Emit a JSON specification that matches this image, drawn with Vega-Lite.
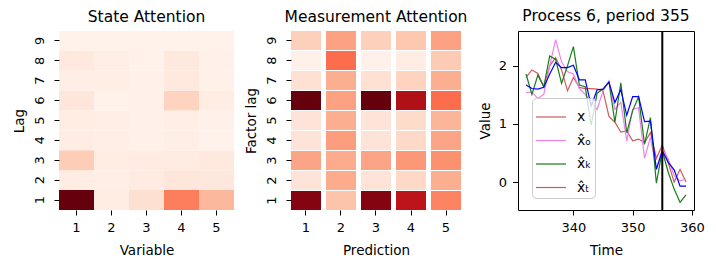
{
  "$schema": "https://vega.github.io/schema/vega-lite/v6.json",
  "padding": {"left": 12, "top": 8, "right": 5, "bottom": 5},
  "config": {
    "font": "DejaVu Sans",
    "view": {"stroke": null},
    "axis": {"labelFontSize": 13, "titleFontSize": 13.5, "titleFontWeight": "normal", "labelColor": "black", "titleColor": "black", "tickColor": "black", "domainColor": "black", "tickSize": 5, "grid": false, "labelFont": "DejaVu Sans", "titleFont": "DejaVu Sans"},
    "axisX": {"labelPadding": 6, "titlePadding": 9},
    "axisY": {"labelPadding": 8, "titlePadding": 7},
    "title": {"fontSize": 15.5, "fontWeight": "normal", "font": "DejaVu Sans", "offset": 6, "color": "black"}
  },
  "datasets": {
    "state": [
      {"lag": 1, "var": 1, "v": 1.0}, {"lag": 1, "var": 2, "v": 0.05}, {"lag": 1, "var": 3, "v": 0.125}, {"lag": 1, "var": 4, "v": 0.44}, {"lag": 1, "var": 5, "v": 0.26},
      {"lag": 2, "var": 1, "v": 0.05}, {"lag": 2, "var": 2, "v": 0.04}, {"lag": 2, "var": 3, "v": 0.06}, {"lag": 2, "var": 4, "v": 0.09}, {"lag": 2, "var": 5, "v": 0.08},
      {"lag": 3, "var": 1, "v": 0.19}, {"lag": 3, "var": 2, "v": 0.05}, {"lag": 3, "var": 3, "v": 0.06}, {"lag": 3, "var": 4, "v": 0.06}, {"lag": 3, "var": 5, "v": 0.07},
      {"lag": 4, "var": 1, "v": 0.05}, {"lag": 4, "var": 2, "v": 0.04}, {"lag": 4, "var": 3, "v": 0.03}, {"lag": 4, "var": 4, "v": 0.04}, {"lag": 4, "var": 5, "v": 0.02},
      {"lag": 5, "var": 1, "v": 0.05}, {"lag": 5, "var": 2, "v": 0.04}, {"lag": 5, "var": 3, "v": 0.03}, {"lag": 5, "var": 4, "v": 0.04}, {"lag": 5, "var": 5, "v": 0.03},
      {"lag": 6, "var": 1, "v": 0.09}, {"lag": 6, "var": 2, "v": 0.02}, {"lag": 6, "var": 3, "v": 0.03}, {"lag": 6, "var": 4, "v": 0.17}, {"lag": 6, "var": 5, "v": 0.05},
      {"lag": 7, "var": 1, "v": 0.04}, {"lag": 7, "var": 2, "v": 0.04}, {"lag": 7, "var": 3, "v": 0.03}, {"lag": 7, "var": 4, "v": 0.07}, {"lag": 7, "var": 5, "v": 0.03},
      {"lag": 8, "var": 1, "v": 0.07}, {"lag": 8, "var": 2, "v": 0.04}, {"lag": 8, "var": 3, "v": 0.02}, {"lag": 8, "var": 4, "v": 0.07}, {"lag": 8, "var": 5, "v": 0.03},
      {"lag": 9, "var": 1, "v": 0.02}, {"lag": 9, "var": 2, "v": 0.02}, {"lag": 9, "var": 3, "v": 0.02}, {"lag": 9, "var": 4, "v": 0.02}, {"lag": 9, "var": 5, "v": 0.02}
    ],
    "meas": [
      {"lag": 1, "pred": 1, "v": 0.94}, {"lag": 2, "pred": 1, "v": 0.1}, {"lag": 3, "pred": 1, "v": 0.32}, {"lag": 4, "pred": 1, "v": 0.1}, {"lag": 5, "pred": 1, "v": 0.1}, {"lag": 6, "pred": 1, "v": 1.0}, {"lag": 7, "pred": 1, "v": 0.12}, {"lag": 8, "pred": 1, "v": 0.03}, {"lag": 9, "pred": 1, "v": 0.18},
      {"lag": 1, "pred": 2, "v": 0.22}, {"lag": 2, "pred": 2, "v": 0.3}, {"lag": 3, "pred": 2, "v": 0.3}, {"lag": 4, "pred": 2, "v": 0.34}, {"lag": 5, "pred": 2, "v": 0.29}, {"lag": 6, "pred": 2, "v": 0.33}, {"lag": 7, "pred": 2, "v": 0.29}, {"lag": 8, "pred": 2, "v": 0.49}, {"lag": 9, "pred": 2, "v": 0.33},
      {"lag": 1, "pred": 3, "v": 0.94}, {"lag": 2, "pred": 3, "v": 0.1}, {"lag": 3, "pred": 3, "v": 0.32}, {"lag": 4, "pred": 3, "v": 0.1}, {"lag": 5, "pred": 3, "v": 0.1}, {"lag": 6, "pred": 3, "v": 1.0}, {"lag": 7, "pred": 3, "v": 0.12}, {"lag": 8, "pred": 3, "v": 0.03}, {"lag": 9, "pred": 3, "v": 0.18},
      {"lag": 1, "pred": 4, "v": 0.8}, {"lag": 2, "pred": 4, "v": 0.15}, {"lag": 3, "pred": 4, "v": 0.36}, {"lag": 4, "pred": 4, "v": 0.15}, {"lag": 5, "pred": 4, "v": 0.14}, {"lag": 6, "pred": 4, "v": 0.84}, {"lag": 7, "pred": 4, "v": 0.17}, {"lag": 8, "pred": 4, "v": 0.05}, {"lag": 9, "pred": 4, "v": 0.21},
      {"lag": 1, "pred": 5, "v": 0.42}, {"lag": 2, "pred": 5, "v": 0.29}, {"lag": 3, "pred": 5, "v": 0.38}, {"lag": 4, "pred": 5, "v": 0.32}, {"lag": 5, "pred": 5, "v": 0.27}, {"lag": 6, "pred": 5, "v": 0.49}, {"lag": 7, "pred": 5, "v": 0.29}, {"lag": 8, "pred": 5, "v": 0.2}, {"lag": 9, "pred": 5, "v": 0.33}
    ],
    "ts": [
      {"t": 332, "s": "x", "v": 1.8}, {"t": 333, "s": "x", "v": 1.93}, {"t": 334, "s": "x", "v": 1.87}, {"t": 335, "s": "x", "v": 1.64}, {"t": 336, "s": "x", "v": 2.0}, {"t": 337, "s": "x", "v": 2.14}, {"t": 338, "s": "x", "v": 1.93}, {"t": 339, "s": "x", "v": 1.57}, {"t": 340, "s": "x", "v": 1.8}, {"t": 341, "s": "x", "v": 1.63}, {"t": 342, "s": "x", "v": 1.61}, {"t": 343, "s": "x", "v": 1.61}, {"t": 344, "s": "x", "v": 1.6}, {"t": 345, "s": "x", "v": 1.57}, {"t": 346, "s": "x", "v": 1.13}, {"t": 347, "s": "x", "v": 1.03}, {"t": 348, "s": "x", "v": 0.86}, {"t": 349, "s": "x", "v": 0.88}, {"t": 350, "s": "x", "v": 0.71}, {"t": 351, "s": "x", "v": 0.74}, {"t": 352, "s": "x", "v": 0.68}, {"t": 353, "s": "x", "v": 0.85}, {"t": 354, "s": "x", "v": 0.41}, {"t": 355, "s": "x", "v": 0.64}, {"t": 356, "s": "x", "v": 0.33}, {"t": 357, "s": "x", "v": 0.0}, {"t": 358, "s": "x", "v": 0.22}, {"t": 359, "s": "x", "v": 0.0},
      {"t": 332, "s": "x̂ₒ", "v": 1.54}, {"t": 333, "s": "x̂ₒ", "v": 1.55}, {"t": 334, "s": "x̂ₒ", "v": 1.44}, {"t": 335, "s": "x̂ₒ", "v": 1.51}, {"t": 336, "s": "x̂ₒ", "v": 2.0}, {"t": 337, "s": "x̂ₒ", "v": 2.45}, {"t": 338, "s": "x̂ₒ", "v": 2.07}, {"t": 339, "s": "x̂ₒ", "v": 1.9}, {"t": 340, "s": "x̂ₒ", "v": 1.86}, {"t": 341, "s": "x̂ₒ", "v": 1.61}, {"t": 342, "s": "x̂ₒ", "v": 1.51}, {"t": 343, "s": "x̂ₒ", "v": 1.37}, {"t": 344, "s": "x̂ₒ", "v": 1.25}, {"t": 345, "s": "x̂ₒ", "v": 1.57}, {"t": 346, "s": "x̂ₒ", "v": 1.74}, {"t": 347, "s": "x̂ₒ", "v": 1.25}, {"t": 348, "s": "x̂ₒ", "v": 1.37}, {"t": 349, "s": "x̂ₒ", "v": 0.71}, {"t": 350, "s": "x̂ₒ", "v": 1.25}, {"t": 351, "s": "x̂ₒ", "v": 1.28}, {"t": 352, "s": "x̂ₒ", "v": 0.41}, {"t": 353, "s": "x̂ₒ", "v": 0.77}, {"t": 354, "s": "x̂ₒ", "v": 0.22}, {"t": 355, "s": "x̂ₒ", "v": 0.57}, {"t": 356, "s": "x̂ₒ", "v": 0.4}, {"t": 357, "s": "x̂ₒ", "v": 0.11}, {"t": 358, "s": "x̂ₒ", "v": 0.02}, {"t": 359, "s": "x̂ₒ", "v": 0.05},
      {"t": 332, "s": "x̂ₖ", "v": 1.86}, {"t": 333, "s": "x̂ₖ", "v": 1.51}, {"t": 334, "s": "x̂ₖ", "v": 1.84}, {"t": 335, "s": "x̂ₖ", "v": 1.64}, {"t": 336, "s": "x̂ₖ", "v": 2.17}, {"t": 337, "s": "x̂ₖ", "v": 2.11}, {"t": 338, "s": "x̂ₖ", "v": 1.7}, {"t": 339, "s": "x̂ₖ", "v": 2.0}, {"t": 340, "s": "x̂ₖ", "v": 2.33}, {"t": 341, "s": "x̂ₖ", "v": 1.67}, {"t": 342, "s": "x̂ₖ", "v": 1.64}, {"t": 343, "s": "x̂ₖ", "v": 0.98}, {"t": 344, "s": "x̂ₖ", "v": 1.53}, {"t": 345, "s": "x̂ₖ", "v": 1.6}, {"t": 346, "s": "x̂ₖ", "v": 1.72}, {"t": 347, "s": "x̂ₖ", "v": 1.03}, {"t": 348, "s": "x̂ₖ", "v": 1.71}, {"t": 349, "s": "x̂ₖ", "v": 0.85}, {"t": 350, "s": "x̂ₖ", "v": 1.23}, {"t": 351, "s": "x̂ₖ", "v": 1.47}, {"t": 352, "s": "x̂ₖ", "v": 0.65}, {"t": 353, "s": "x̂ₖ", "v": 1.11}, {"t": 354, "s": "x̂ₖ", "v": -0.02}, {"t": 355, "s": "x̂ₖ", "v": 0.54}, {"t": 356, "s": "x̂ₖ", "v": 0.17}, {"t": 357, "s": "x̂ₖ", "v": -0.12}, {"t": 358, "s": "x̂ₖ", "v": -0.35}, {"t": 359, "s": "x̂ₖ", "v": -0.22},
      {"t": 332, "s": "obs", "v": 1.67}, {"t": 333, "s": "obs", "v": 1.61}, {"t": 334, "s": "obs", "v": 1.6}, {"t": 335, "s": "obs", "v": 1.63}, {"t": 336, "s": "obs", "v": 1.86}, {"t": 337, "s": "obs", "v": 2.06}, {"t": 338, "s": "obs", "v": 1.97}, {"t": 339, "s": "obs", "v": 1.97}, {"t": 340, "s": "obs", "v": 2.01}, {"t": 341, "s": "obs", "v": 1.76}, {"t": 342, "s": "obs", "v": 1.76}, {"t": 343, "s": "obs", "v": 1.31}, {"t": 344, "s": "obs", "v": 1.59}, {"t": 345, "s": "obs", "v": 1.6}, {"t": 346, "s": "obs", "v": 1.72}, {"t": 347, "s": "obs", "v": 1.37}, {"t": 348, "s": "obs", "v": 1.59}, {"t": 349, "s": "obs", "v": 1.15}, {"t": 350, "s": "obs", "v": 1.47}, {"t": 351, "s": "obs", "v": 1.47}, {"t": 352, "s": "obs", "v": 1.04}, {"t": 353, "s": "obs", "v": 1.05}, {"t": 354, "s": "obs", "v": 0.22}, {"t": 355, "s": "obs", "v": 0.54}, {"t": 356, "s": "obs", "v": 0.34}, {"t": 357, "s": "obs", "v": 0.21}, {"t": 358, "s": "obs", "v": -0.07}, {"t": 359, "s": "obs", "v": -0.07}
    ]
  },
  "hconcat": [
    {
      "spacing": 10,
      "hconcat": [
        {
          "title": "State Attention",
          "width": 175, "height": 179,
          "data": {"name": "state"},
          "mark": "rect",
          "encoding": {
            "x": {"field": "var", "type": "ordinal", "title": "Variable", "axis": {"labelAngle": 0, "domain": false}},
            "y": {"field": "lag", "type": "ordinal", "sort": "descending", "title": "Lag", "axis": {"labelAngle": -90, "domain": false}},
            "color": {"field": "v", "type": "quantitative", "scale": {"domain": [0, 0.125, 0.25, 0.375, 0.5, 0.625, 0.75, 0.875, 1], "range": ["#fff5f0", "#fee0d2", "#fcbba1", "#fc9272", "#fb6a4a", "#ef3b2c", "#cb181d", "#a50f15", "#67000d"]}, "legend": null}
          }
        },
        {
          "title": "Measurement Attention",
          "width": 170, "height": 179,
          "data": {"name": "meas"},
          "mark": "rect",
          "encoding": {
            "x": {"field": "pred", "type": "ordinal", "title": "Prediction", "scale": {"paddingInner": 0.143, "paddingOuter": 0}, "axis": {"labelAngle": 0, "domain": false}},
            "y": {"field": "lag", "type": "ordinal", "sort": "descending", "title": "Factor lag", "scale": {"paddingInner": 0.05, "paddingOuter": 0}, "axis": {"labelAngle": -90, "domain": false}},
            "color": {"field": "v", "type": "quantitative", "scale": {"domain": [0, 0.125, 0.25, 0.375, 0.5, 0.625, 0.75, 0.875, 1], "range": ["#fff5f0", "#fee0d2", "#fcbba1", "#fc9272", "#fb6a4a", "#ef3b2c", "#cb181d", "#a50f15", "#67000d"]}, "legend": null}
          }
        }
      ]
    },
    {
      "title": "Process 6, period 355",
      "width": 176, "height": 179,
      "view": {"stroke": "black", "strokeWidth": 1},
      "layer": [
        {
          "data": {"name": "ts"},
          "mark": {"type": "line", "strokeWidth": 1.2},
          "encoding": {
            "x": {"field": "t", "type": "quantitative", "title": "Time", "scale": {"domain": [330.65, 360.35], "nice": false}, "axis": {"values": [340, 350, 360], "domain": false}},
            "y": {"field": "v", "type": "quantitative", "title": "Value", "scale": {"domain": [-0.48, 2.6], "nice": false, "zero": false}, "axis": {"values": [0, 1, 2], "domain": false, "labelPadding": 6, "titlePadding": 6, "tickSize": 5.5}},
            "color": {
              "field": "s", "type": "nominal",
              "scale": {"domain": ["x", "x̂ₒ", "x̂ₖ", "x̂ₜ", "obs"], "range": ["#cd5c5c", "#ee82ee", "#1a7a1a", "#cd5c5c", "#0000ff"]},
              "legend": {"orient": "none", "legendX": 14, "legendY": 67, "title": null, "values": ["x", "x̂ₒ", "x̂ₖ", "x̂ₜ"], "fillColor": "rgba(255,255,255,0.8)", "strokeColor": "#cccccc", "cornerRadius": 4, "padding": 3, "labelFontSize": 14, "labelFont": "DejaVu Sans", "labelColor": "black", "symbolType": "stroke", "symbolSize": 900, "symbolStrokeWidth": 1.2, "rowPadding": 0.5, "labelOffset": 10}
            }
          }
        },
        {
          "data": {"values": [{"t": 355}]},
          "mark": {"type": "rule", "color": "black", "strokeWidth": 2},
          "encoding": {"x": {"field": "t", "type": "quantitative"}}
        }
      ]
    }
  ],
  "spacing": 9
}
